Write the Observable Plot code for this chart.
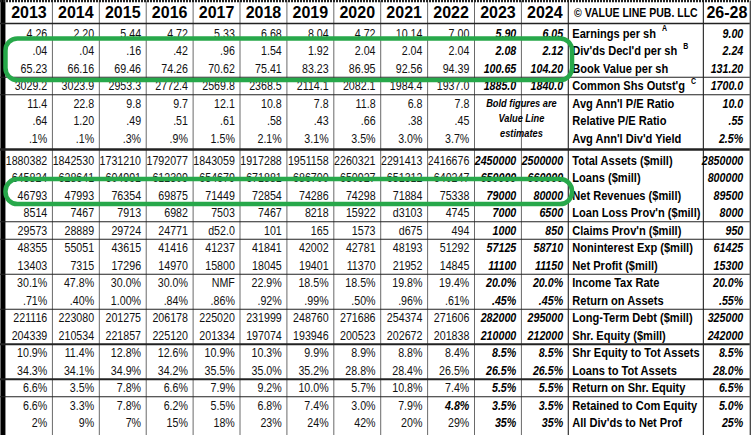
<!DOCTYPE html>
<html><head><meta charset="utf-8">
<script src="https://cdn.jsdelivr.net/npm/d3@7"></script>
<script src="https://cdn.jsdelivr.net/npm/@observablehq/plot@0.6"></script>
<style>
html,body{margin:0;padding:0;background:#fff;}
#chart svg{display:block;}
</style>
</head><body><div id="chart"></div>
<script>
// ---------------- DATA ----------------
const years = [2013,2014,2015,2016,2017,2018,2019,2020,2021,2022,2023,2024];
const cornerTitle = "© VALUE LINE PUB. LLC";
const projTitle = "26-28";
const rowLabels = [
  "Earnings per sh","Div'ds Decl'd per sh","Book Value per sh","Common Shs Outst'g",
  "Avg Ann'l P/E Ratio","Relative P/E Ratio","Avg Ann'l Div'd Yield",
  "Total Assets ($mill)","Loans ($mill)","Net Revenues ($mill)","Loan Loss Prov'n ($mill)",
  "Claims Prov'n ($mill)","Noninterest Exp ($mill)","Net Profit ($mill)",
  "Income Tax Rate","Return on Assets","Long-Term Debt ($mill)","Shr. Equity ($mill)",
  "Shr Equity to Tot Assets","Loans to Tot Assets","Return on Shr. Equity",
  "Retained to Com Equity","All Div'ds to Net Prof"
];
const rowSups = ["A","B","","C","","","","","","","","","","","","","","","","","","",""];
const earningsPerSh  = ["4.26","2.20","5.44","4.72","5.33","6.68","8.04","4.72","10.14","7.00","5.90","6.05"];
const divsDeclPerSh  = [".04",".04",".16",".42",".96","1.54","1.92","2.04","2.04","2.04","2.08","2.12"];
const bookValuePerSh = ["65.23","66.16","69.46","74.26","70.62","75.41","83.23","86.95","92.56","94.39","100.65","104.20"];
const commonShsOutst = ["3029.2","3023.9","2953.3","2772.4","2569.8","2368.5","2114.1","2082.1","1984.4","1937.0","1885.0","1840.0"];
const avgPERatio     = ["11.4","22.8","9.8","9.7","12.1","10.8","7.8","11.8","6.8","7.8","",""];
const relativePE     = [".64","1.20",".49",".51",".61",".58",".43",".66",".38",".45","",""];
const avgDivYield    = [".1%",".1%",".3%",".9%","1.5%","2.1%","3.1%","3.5%","3.0%","3.7%","",""];
const totalAssets    = ["1880382","1842530","1731210","1792077","1843059","1917288","1951158","2260321","2291413","2416676","2450000","2500000"];
const loans          = ["645824","628641","604991","612309","654679","671881","686700","650927","651312","640247","650000","660000"];
const netRevenues    = ["46793","47993","76354","69875","71449","72854","74286","74298","71884","75338","79000","80000"];
const loanLossProv   = ["8514","7467","7913","6982","7503","7467","8218","15922","d3103","4745","7000","6500"];
const claimsProv     = ["29573","28889","29724","24771","d52.0","101","165","1573","d675","494","1000","850"];
const nonintExp      = ["48355","55051","43615","41416","41237","41841","42002","42781","48193","51292","57125","58710"];
const netProfit      = ["13403","7315","17296","14970","15800","18045","19401","11370","21952","14845","11100","11150"];
const incomeTaxRate  = ["30.1%","47.8%","30.0%","30.0%","NMF","22.9%","18.5%","18.5%","19.8%","19.4%","20.0%","20.0%"];
const returnOnAssets = [".71%",".40%","1.00%",".84%",".86%",".92%",".99%",".50%",".96%",".61%",".45%",".45%"];
const longTermDebt   = ["221116","223080","201275","206178","225020","231999","248760","271686","254374","271606","282000","295000"];
const shrEquity      = ["204339","210534","221857","225120","201334","197074","193946","200523","202672","201838","210000","212000"];
const shrEqToTotAss  = ["10.9%","11.4%","12.8%","12.6%","10.9%","10.3%","9.9%","8.9%","8.8%","8.4%","8.5%","8.5%"];
const loansToTotAss  = ["34.3%","34.1%","34.9%","34.2%","35.5%","35.0%","35.2%","28.8%","28.4%","26.5%","26.5%","26.5%"];
const returnOnShrEq  = ["6.6%","3.5%","7.8%","6.6%","7.9%","9.2%","10.0%","5.7%","10.8%","7.4%","5.5%","5.5%"];
const retainedToEq   = ["6.6%","3.3%","7.8%","6.2%","5.5%","6.8%","7.4%","3.0%","7.9%","4.8%","3.5%","3.5%"];
const allDivsToNP    = ["2%","9%","7%","15%","18%","23%","24%","42%","20%","29%","35%","35%"];
const projections    = ["9.00","2.24","131.20","1700.0","10.0",".55","2.5%","2850000","800000","89500","8000","950","61425","15300","20.0%",".55%","325000","242000","8.5%","28.0%","6.5%","5.0%","25%"];
const estimateNote   = ["Bold figures are","Value Line","estimates"];
const estimateYears  = [2023, 2024];
const extraBoldCells = [["Retained to Com Equity", 2022]];
const highlightRows  = [["Div'ds Decl'd per sh","Book Value per sh"],["Net Revenues ($mill)","Net Revenues ($mill)"]];

const rowValues = [earningsPerSh,divsDeclPerSh,bookValuePerSh,commonShsOutst,avgPERatio,relativePE,avgDivYield,
  totalAssets,loans,netRevenues,loanLossProv,claimsProv,nonintExp,netProfit,incomeTaxRate,returnOnAssets,
  longTermDebt,shrEquity,shrEqToTotAss,loansToTotAss,returnOnShrEq,retainedToEq,allDivsToNP];

// ---------------- LAYOUT (units: 1 x-unit = one year column, 1 y-unit = one row) ----------------
const W = 754, H = 435;
const X_DOMAIN = [-0.107, 15.97];
const Y_DOMAIN = [-1.886, 22.971];
const PX_PER_X = W / (X_DOMAIN[1] - X_DOMAIN[0]);
const PX_PER_Y = H / (Y_DOMAIN[1] - Y_DOMAIN[0]);
const LABEL_START = 12, LABEL_END = 14.88, PROJ_END = 15.88;
const GAP_AFTER = 6, GAP = 0.257;          // extra space at the double rule
const rowY = i => i + (i > GAP_AFTER ? GAP : 0);
const sepY = i => (rowY(i) + rowY(i + 1)) / 2;
const TOP = -1.86, HEADER_BOTTOM = -0.57, BOTTOM = Y_DOMAIN[1];
const HEADER_Y = -1.17;
const NARROW = "'Liberation Sans Narrow','Arial Narrow','Liberation Sans',Arial,sans-serif";
const WIDE = "'Liberation Sans',Arial,Helvetica,sans-serif";
const GREEN = "#27a84a";
const DATA_SIZE = 13, LABEL_SIZE = 13.5;

function hasFont(name) {
  const c = document.createElement("canvas").getContext("2d");
  const s = "1880382 Earnings per sh WMW";
  c.font = "20px monospace"; const a = c.measureText(s).width;
  c.font = `20px '${name}', monospace`; const b = c.measureText(s).width;
  c.font = "20px serif"; const a2 = c.measureText(s).width;
  c.font = `20px '${name}', serif`; const b2 = c.measureText(s).width;
  return a !== b || a2 !== b2;
}
const narrowOK = hasFont("Liberation Sans Narrow") || hasFont("Arial Narrow");
const SQUEEZE = narrowOK ? 1 : 0.82;
const measureCtx = document.createElement("canvas").getContext("2d");
measureCtx.font = `bold ${LABEL_SIZE}px ${NARROW}`;

const colIndex = y => years.indexOf(y);
const cells = [];
rowValues.forEach((vals, i) => vals.forEach((v, j) => {
  if (v === "") return;
  const bold = estimateYears.includes(years[j]) ||
    extraBoldCells.some(([l, y]) => l === rowLabels[i] && y === years[j]);
  cells.push({text: v, x: j + 1 - 0.11, y: rowY(i), bold});
}));
const LABEL_X = LABEL_START + 0.085;
const labelData = rowLabels.map((l, i) => ({text: l, x: LABEL_X, y: rowY(i)}));
const supData = rowLabels.map((l, i) => ({
  text: rowSups[i],
  x: LABEL_X + (measureCtx.measureText(l).width * SQUEEZE + 6) / PX_PER_X,
  y: rowY(i) - 5 / PX_PER_Y
})).filter(d => d.text);
const projData = projections.map((p, i) => ({text: p, x: PROJ_END - 0.15, y: rowY(i)}));
const headerData = years.map((yr, j) => ({text: String(yr), x: j + 0.5, y: HEADER_Y}))
  .concat([{text: projTitle, x: (LABEL_END + PROJ_END) / 2, y: HEADER_Y}]);
const noteRow = rowLabels.indexOf("Avg Ann'l P/E Ratio");
const noteData = estimateNote.map((t, k) => ({text: t, x: colIndex(2024), y: rowY(noteRow) + k * 0.85}));

const sepSpec = [[2,1.2],[3,1.2],[6,2.4],[10,1.2],[11,1.2],[13,1.2],[15,1.2],[17,1.8],[19,2.2],[20,1.2]];
const hRules = sepSpec.map(([i, w]) => ({y: sepY(i), w}))
  .concat([{y: HEADER_BOTTOM, w: 1.6}]);

const boxPads = [[0.69, 0.69], [0.91, 0.52]];
const boxes = highlightRows.map(([a, b], k) => ({
  x1: colIndex(years[0]) + 0.01, x2: colIndex(years[years.length-1]) + 1.09,
  y1: rowY(rowLabels.indexOf(a)) - boxPads[k][0], y2: rowY(rowLabels.indexOf(b)) + boxPads[k][1]
}));

const plot = Plot.plot({
  width: W, height: H, margin: 0,
  style: {background: "#fff"},
  x: {domain: X_DOMAIN, range: [0, W], axis: null},
  y: {domain: Y_DOMAIN, range: [0, H], axis: null},
  marks: [
    Plot.ruleX(d3.range(1, 12), {x: d => d, y1: TOP, y2: BOTTOM, stroke: "#6a6a6a", strokeWidth: 1}),
    Plot.ruleX([LABEL_START, LABEL_END, PROJ_END], {x: d => d, y1: TOP, y2: BOTTOM, stroke: "#333", strokeWidth: 1.2}),
    Plot.ruleX([-0.055], {x: d => d, y1: Y_DOMAIN[0], y2: BOTTOM, stroke: "#000", strokeWidth: 5}),
    Plot.ruleY(hRules, {y: "y", x1: X_DOMAIN[0], x2: PROJ_END, stroke: "#222", strokeWidth: "w"}),
    Plot.ruleY([TOP], {y: d => d, x1: X_DOMAIN[0], x2: PROJ_END, stroke: "#222", strokeWidth: 2.5, strokeDasharray: "2,1"}),
    Plot.text(headerData, {x: "x", y: "y", text: "text", fontFamily: WIDE, fontWeight: "bold", fontSize: 16, fill: "#000"}),
    Plot.text([cornerTitle], {x: (LABEL_START + LABEL_END) / 2, y: HEADER_Y, text: d => d, fontFamily: NARROW, fontWeight: "bold", fontSize: 12.8, fill: "#000"}),
    Plot.text(cells.filter(d => !d.bold), {x: "x", y: "y", text: "text", textAnchor: "end", fontFamily: NARROW, fontSize: DATA_SIZE, fill: "#111"}),
    Plot.text(cells.filter(d => d.bold), {x: "x", y: "y", text: "text", textAnchor: "end", fontFamily: NARROW, fontWeight: "bold", fontStyle: "italic", fontSize: DATA_SIZE, fill: "#000"}),
    Plot.text(projData, {x: "x", y: "y", text: "text", textAnchor: "end", fontFamily: NARROW, fontWeight: "bold", fontStyle: "italic", fontSize: DATA_SIZE, fill: "#000"}),
    Plot.text(labelData, {x: "x", y: "y", text: "text", textAnchor: "start", fontFamily: NARROW, fontWeight: "bold", fontSize: LABEL_SIZE, fill: "#000"}),
    Plot.text(supData, {x: "x", y: "y", text: "text", textAnchor: "start", fontFamily: NARROW, fontWeight: "bold", fontSize: 8.5, fill: "#000"}),
    Plot.text(noteData, {x: "x", y: "y", text: "text", fontFamily: NARROW, fontWeight: "bold", fontStyle: "italic", fontSize: 11.3, fill: "#000"}),
    Plot.rect(boxes, {x1: "x1", x2: "x2", y1: "y1", y2: "y2", fill: "none", stroke: GREEN, strokeWidth: 4.5, rx: 12})
  ]
});
document.getElementById("chart").append(plot);

// if the narrow face is missing, condense the fallback face
if (!narrowOK) {
  plot.querySelectorAll("g").forEach(g => {
    if (g.getAttribute("font-family") === NARROW) {
      g.querySelectorAll("text").forEach(t => {
        const w = t.getComputedTextLength();
        t.setAttribute("textLength", (w * SQUEEZE).toFixed(2));
        t.setAttribute("lengthAdjust", "spacingAndGlyphs");
      });
    }
  });
}
</script>
</body></html>
